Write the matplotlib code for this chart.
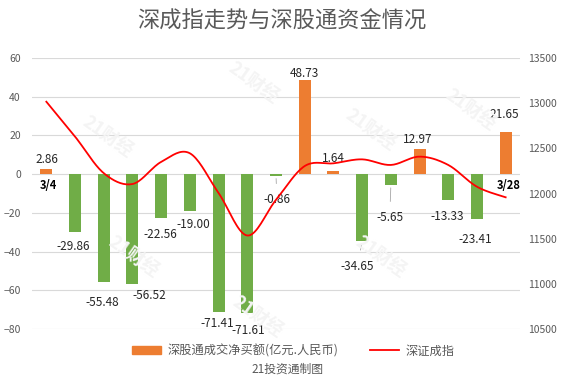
import matplotlib.pyplot as plt
import matplotlib.patches as mpatches
from matplotlib.lines import Line2D
import numpy as np

plt.rcParams['font.family'] = ['Noto Sans CJK SC', 'DejaVu Sans']

# --- data ---
dates = ["3/4", "3/7", "3/8", "3/9", "3/10", "3/11", "3/14", "3/15", "3/16",
         "3/17", "3/18", "3/21", "3/22", "3/23", "3/24", "3/25", "3/28"]
net_buy = [2.86, -29.86, -55.48, -56.52, -22.56, -19.00, -71.41, -71.61, -0.86,
           48.73, 1.64, -34.65, -5.65, 12.97, -13.33, -23.41, 21.65]
szci = [13016, 12630, 12225, 12105, 12350, 12445, 12005, 11535, 11930,
        12304, 12334, 12378, 12316, 12408, 12316, 12075, 11958]

bar_label = "深股通成交净买额(亿元.人民币)"
line_label = "深证成指"
title = "深成指走势与深股通资金情况"
source = "21投资通制图"

ORANGE = "#ED7D31"
GREEN = "#70AD47"
RED = "#FF0000"
GREY = "#595959"
GRID = "#D9D9D9"


def smooth(x, y, n=20):
    # excel-like smoothed line (bezier through points, catmull-rom control points)
    x = np.asarray(x, float)
    y = np.asarray(y, float)
    px = np.concatenate([[x[0]], x, [x[-1]]])
    py = np.concatenate([[y[0]], y, [y[-1]]])
    xs, ys = [], []
    t = np.linspace(0, 1, n)
    for i in range(1, len(px) - 2):
        p0 = np.array([px[i], py[i]])
        p3 = np.array([px[i + 1], py[i + 1]])
        p1 = p0 + (np.array([px[i + 1], py[i + 1]]) - np.array([px[i - 1], py[i - 1]])) / 6
        p2 = p3 - (np.array([px[i + 2], py[i + 2]]) - np.array([px[i], py[i]])) / 6
        pts = ((1 - t) ** 3)[:, None] * p0 + (3 * (1 - t) ** 2 * t)[:, None] * p1 \
            + (3 * (1 - t) * t ** 2)[:, None] * p2 + (t ** 3)[:, None] * p3
        xs.extend(pts[:, 0])
        ys.extend(pts[:, 1])
    return np.array(xs), np.array(ys)


fig = plt.figure(figsize=(5.64, 3.82), dpi=100)
ax = fig.add_axes([32 / 564, 1 - 329 / 382, 488 / 564, 271 / 382])
ax2 = ax.twinx()

x = np.arange(len(dates))
colors = [ORANGE if v >= 0 else GREEN for v in net_buy]
ax.bar(x, net_buy, width=0.42, color=colors, zorder=2)

ax.set_xlim(-0.5, len(dates) - 0.5)
ax.set_ylim(-80, 60)
ax.set_yticks(range(-80, 61, 20))
ax.set_xticks([])
ax.grid(axis='y', color=GRID, lw=0.8, zorder=0)
ax.set_axisbelow(True)
for s in ax.spines.values():
    s.set_visible(False)
ax.tick_params(axis='y', length=0, labelsize=7.5, labelcolor=GREY, pad=8)

ax2.set_ylim(10500, 13500)
ax2.set_yticks(range(10500, 13501, 500))
for s in ax2.spines.values():
    s.set_visible(False)
ax2.tick_params(axis='y', length=0, labelsize=7.5, labelcolor=GREY, pad=6)

sx, sy = smooth(x, szci)
ax2.plot(sx, sy, color=RED, lw=1.3, zorder=3)

# data labels: offsets (px right, px up) of the label centre from the bar tip
nudge = [(0.6, 4.5), (-2, -10), (-1.5, -15.6), (17, -7.3), (-0.5, -12), (3, -9),
         (-1.5, -5.7), (1, -12.4), (1, -19), (0, 1.7), (0, 7), (-4.7, -20),
         (-1, -27.6), (-2.3, 5), (-1.3, -12), (-2, -15), (-1, 13)]
leaders = {8, 11, 12}
px2pt = 0.72
for i, v in enumerate(net_buy):
    dx, dy = nudge[i]
    dy = dy + (5 if v >= 0 else -5)
    kw = {}
    if i in leaders:
        kw['arrowprops'] = dict(arrowstyle='-', color='#A6A6A6', lw=0.6,
                                shrinkA=5, shrinkB=2)
    ax.annotate(f"{v:.2f}", xy=(i, v), xytext=(dx * px2pt, dy * px2pt),
                textcoords='offset points', ha='center', va='center',
                fontsize=8.5, color='#262626', zorder=5, **kw)

# first / last date labels
ax.annotate(dates[0], xy=(0, 0), xytext=(1.2, -8), textcoords='offset points',
            ha='center', va='center', fontsize=8, fontweight='bold', color='black')
ax.annotate(dates[-1], xy=(len(dates) - 1, 0), xytext=(2.5, -8.5),
            textcoords='offset points', ha='center', va='center',
            fontsize=8, fontweight='bold', color='black')

# faint watermarks
for wx, wy in [(107, 137), (253, 83), (370, 130), (133, 257), (257, 317),
               (380, 257), (470, 110)]:
    fig.text(wx / 564, 1 - wy / 382, "21财经", rotation=-35, fontsize=13,
             fontweight='bold', color='#F4F4F4', ha='center', va='center',
             zorder=0)

fig.text(0.5, 1 - 21 / 382, title, ha='center', va='center', fontsize=16,
         color=GREY)

handles = [mpatches.Patch(color=ORANGE, label=bar_label),
           Line2D([0], [0], color=RED, lw=1.3, label=line_label)]
fig.legend(handles=handles, loc='center', bbox_to_anchor=(0.52, 1 - 351 / 382),
           ncol=2, frameon=False, fontsize=8.8, handlelength=2.4, handleheight=0.6,
           columnspacing=2.6, handletextpad=0.5, labelcolor=GREY)
fig.text(0.51, 1 - 369 / 382, source, ha='center', va='center', fontsize=8.5,
         color=GREY)

fig.savefig("out.png", dpi=100)
